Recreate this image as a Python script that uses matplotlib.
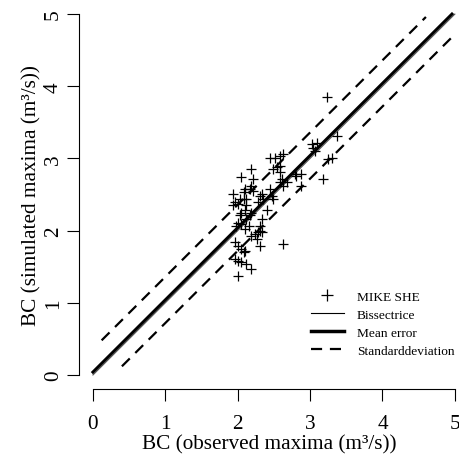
import matplotlib.pyplot as plt
from matplotlib.lines import Line2D

plt.rcParams['font.family'] = ['Liberation Serif', 'DejaVu Serif']

# observed / simulated maxima (m3/s)
obs = [3.23, 3.02, 3.09, 3.04, 3.07, 3.37, 3.30, 3.25, 3.18, 2.88, 2.88, 2.79, 2.81,
       2.44, 2.51, 2.58, 2.63, 2.49, 2.54, 2.58, 2.58, 2.61, 2.58, 2.63, 2.68,
       2.19, 2.05, 2.21, 2.19, 2.17, 2.21,
       2.31, 2.35, 2.28, 2.33, 2.44, 2.47, 2.49, 2.40, 2.33, 2.31,
       2.19, 2.24, 2.28, 2.31, 2.33, 2.26, 2.31, 2.63,
       1.96, 2.01, 2.05, 2.08, 2.10, 1.96, 2.01, 2.05, 2.12, 2.19, 2.01,
       1.94, 1.96, 2.01, 1.94, 2.03, 2.08, 2.12, 2.12, 2.10, 2.05, 2.03, 2.01,
       1.98, 2.05, 2.12, 2.17, 2.19, 2.15, 2.10, 2.10, 2.08]
sim = [3.85, 3.20, 3.22, 3.15, 3.10, 3.31, 3.01, 2.99, 2.71, 2.78, 2.62, 2.78, 2.76,
       3.01, 3.01, 3.04, 3.06, 2.85, 2.88, 2.90, 2.81, 2.71, 2.67, 2.62, 2.67,
       2.85, 2.74, 2.71, 2.62, 2.58, 2.55,
       2.48, 2.44, 2.39, 2.51, 2.58, 2.48, 2.44, 2.28, 2.16, 2.07,
       1.93, 1.95, 1.98, 2.00, 1.98, 1.88, 1.79, 1.81,
       1.84, 1.79, 1.75, 1.70, 1.72, 1.61, 1.58, 1.56, 1.54, 1.47, 1.37,
       2.51, 2.39, 2.37, 2.35, 2.44, 2.44, 2.44, 2.35, 2.28, 2.25, 2.21, 2.11,
       2.07, 2.09, 2.16, 2.21, 2.25, 2.07, 2.02, 2.58, 2.53]

mean_error = 0.04
std_dev = 0.32
bis_x = [0, 5]
mean_x = [0, 4.96]
upper_x = [0.12, 4.6]
lower_x = [0.40, 5.0]

fig = plt.figure(figsize=(4.6, 4.64), dpi=100)
ax = fig.add_axes([0.1717, 0.1586, 0.828, 0.840])

ax.plot(bis_x, bis_x, color='#555555', lw=0.8)
ax.plot(mean_x, [x + mean_error for x in mean_x], color='black', lw=2.2)
ax.plot(upper_x, [x + mean_error + std_dev for x in upper_x], color='black', lw=1.6, dashes=(5, 3.5))
ax.plot(lower_x, [x + mean_error - std_dev for x in lower_x], color='black', lw=1.6, dashes=(5, 3.5))
ax.plot(obs, sim, '+', color='black', ms=7, mew=0.9)

ax.set_xlim(-0.193, 5.069)
ax.set_ylim(-0.2, 5.2)
for s in ['top', 'right']:
    ax.spines[s].set_visible(False)
ax.spines['left'].set_bounds(0, 5)
ax.spines['bottom'].set_bounds(0, 5)
ax.set_xticks(range(6))
ax.set_yticks(range(6))
ax.tick_params(length=8.5, width=0.8, labelsize=15.3, pad=3)
ax.tick_params(axis='x', pad=9)
for lab in ax.get_yticklabels():
    lab.set_rotation(90)
    lab.set_va('center')
ax.set_xlabel('BC (observed maxima (m³/s))', fontsize=15.3, labelpad=1)
ax.set_ylabel('BC (simulated maxima (m³/s))', fontsize=15.3, labelpad=1.5)

handles = [Line2D([], [], ls='none', marker='+', color='black', ms=9, mew=0.9),
           Line2D([], [], color='black', lw=0.8),
           Line2D([], [], color='black', lw=2.5),
           Line2D([], [], color='black', lw=1.6, dashes=(5, 3.5))]
labels = ['MIKE SHE', 'Bissectrice', 'Mean error', 'Standarddeviation']
ax.legend(handles, labels, frameon=False, fontsize=9.6, loc='upper left',
          bbox_to_anchor=(0.676, 0.372), bbox_transform=fig.transFigure,
          borderpad=0, borderaxespad=0, handlelength=2.45, handletextpad=1.0,
          labelspacing=0.42)

fig.savefig('out.png', dpi=100)
